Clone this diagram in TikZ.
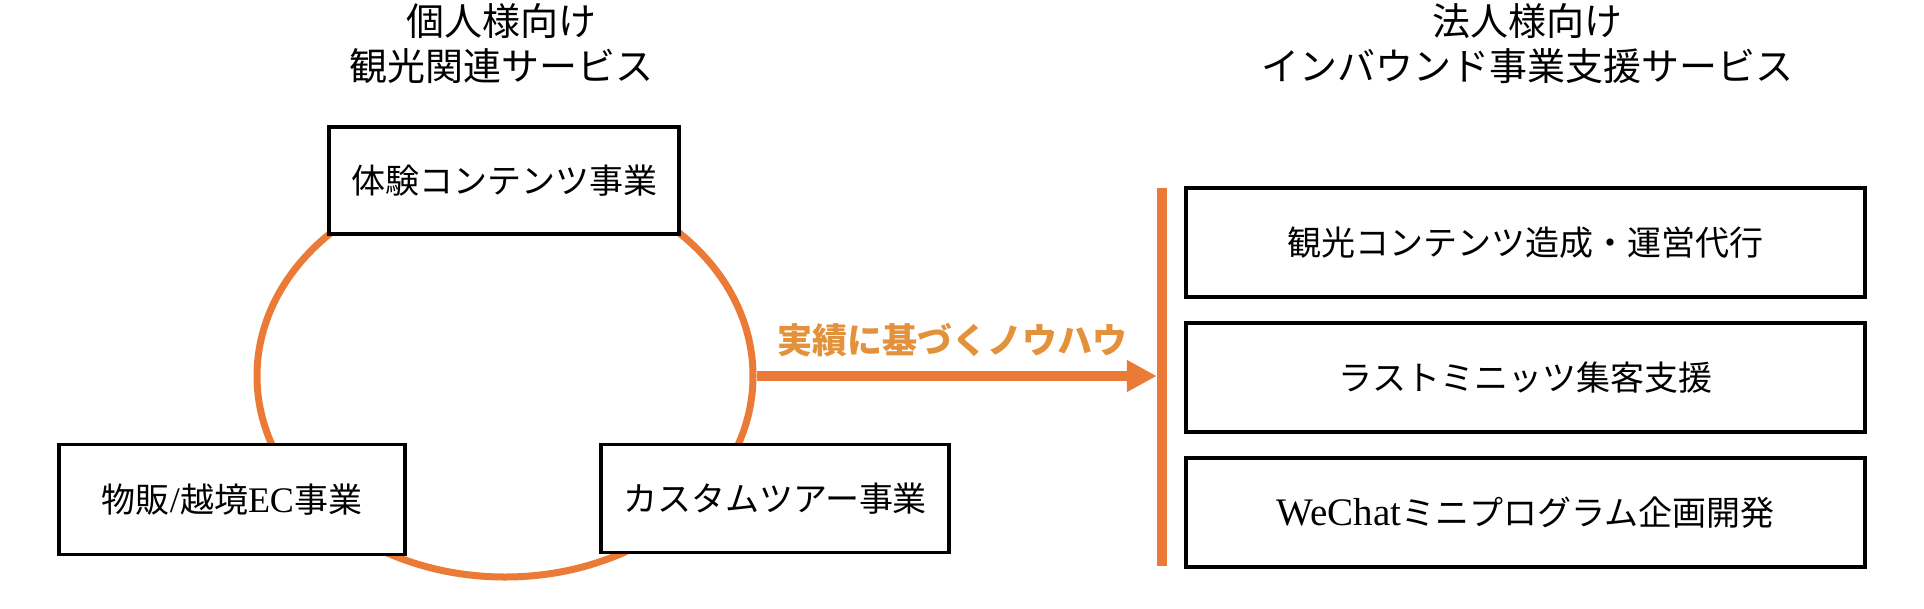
\documentclass[tikz,border=0pt]{standalone}
\usepackage{fontspec}
\setmainfont{Noto Sans CJK JP}
\newfontfamily\lat{Liberation Serif}
\usetikzlibrary{shapes.geometric,arrows.meta}
\definecolor{ora}{HTML}{EA7A35}
\definecolor{oratext}{HTML}{E3913A}
\tikzset{
  titletext/.style={align=center,font=\fontsize{38}{45}\selectfont},
  boxnode/.style={draw=black,line width=3.2pt,fill=white,inner sep=0pt,font=\fontsize{34}{40}\selectfont},
}
\begin{document}
\begin{tikzpicture}[x=1pt,y=-1pt]
\useasboundingbox (0,0) rectangle (1924,608);
% titles
\node[titletext] (ltitle) at (501,44) {個人様向け\\観光関連サービス};
\node[titletext] (rtitle) at (1527,44) {法人様向け\\インバウンド事業支援サービス};
% cycle ellipse
\node[ellipse,draw=ora,line width=7pt,minimum width=496pt,minimum height=402pt,inner sep=0pt] (ell) at (505,376) {};
% left boxes
\node[boxnode,minimum width=350pt,minimum height=107pt] (exp) at (504,180.5) {体験コンテンツ事業};
\node[boxnode,minimum width=346pt,minimum height=110pt] (ec) at (232,499.5) {物販{\lat\fontsize{36}{40}\selectfont /}越境{\lat\fontsize{36}{40}\selectfont EC}事業};
\node[boxnode,minimum width=348pt,minimum height=108pt] (tour) at (775,498.5) {カスタムツアー事業};
% vertical bar
\node[fill=ora,inner sep=0pt,minimum width=10pt,minimum height=378pt] (bar) at (1162,377) {};
% arrow
\draw[ora,line width=10pt,-{Triangle[length=30pt,width=30pt]}] (ell.east) -- (bar.west |- ell.east);
\node[text=oratext,font=\fontsize{35}{40}\selectfont\bfseries] (know) at (952,340) {実績に基づくノウハウ};
% right boxes
\node[boxnode,minimum width=679pt,minimum height=109pt] (r1) at (1525.5,242.5) {観光コンテンツ造成・運営代行};
\node[boxnode,minimum width=679pt,minimum height=109pt] (r2) at (1525.5,377.5) {ラストミニッツ集客支援};
\node[boxnode,minimum width=679pt,minimum height=109pt] (r3) at (1525.5,512.5) {{\lat\fontsize{39}{40}\selectfont WeChat}ミニプログラム企画開発};
\end{tikzpicture}
\end{document}
